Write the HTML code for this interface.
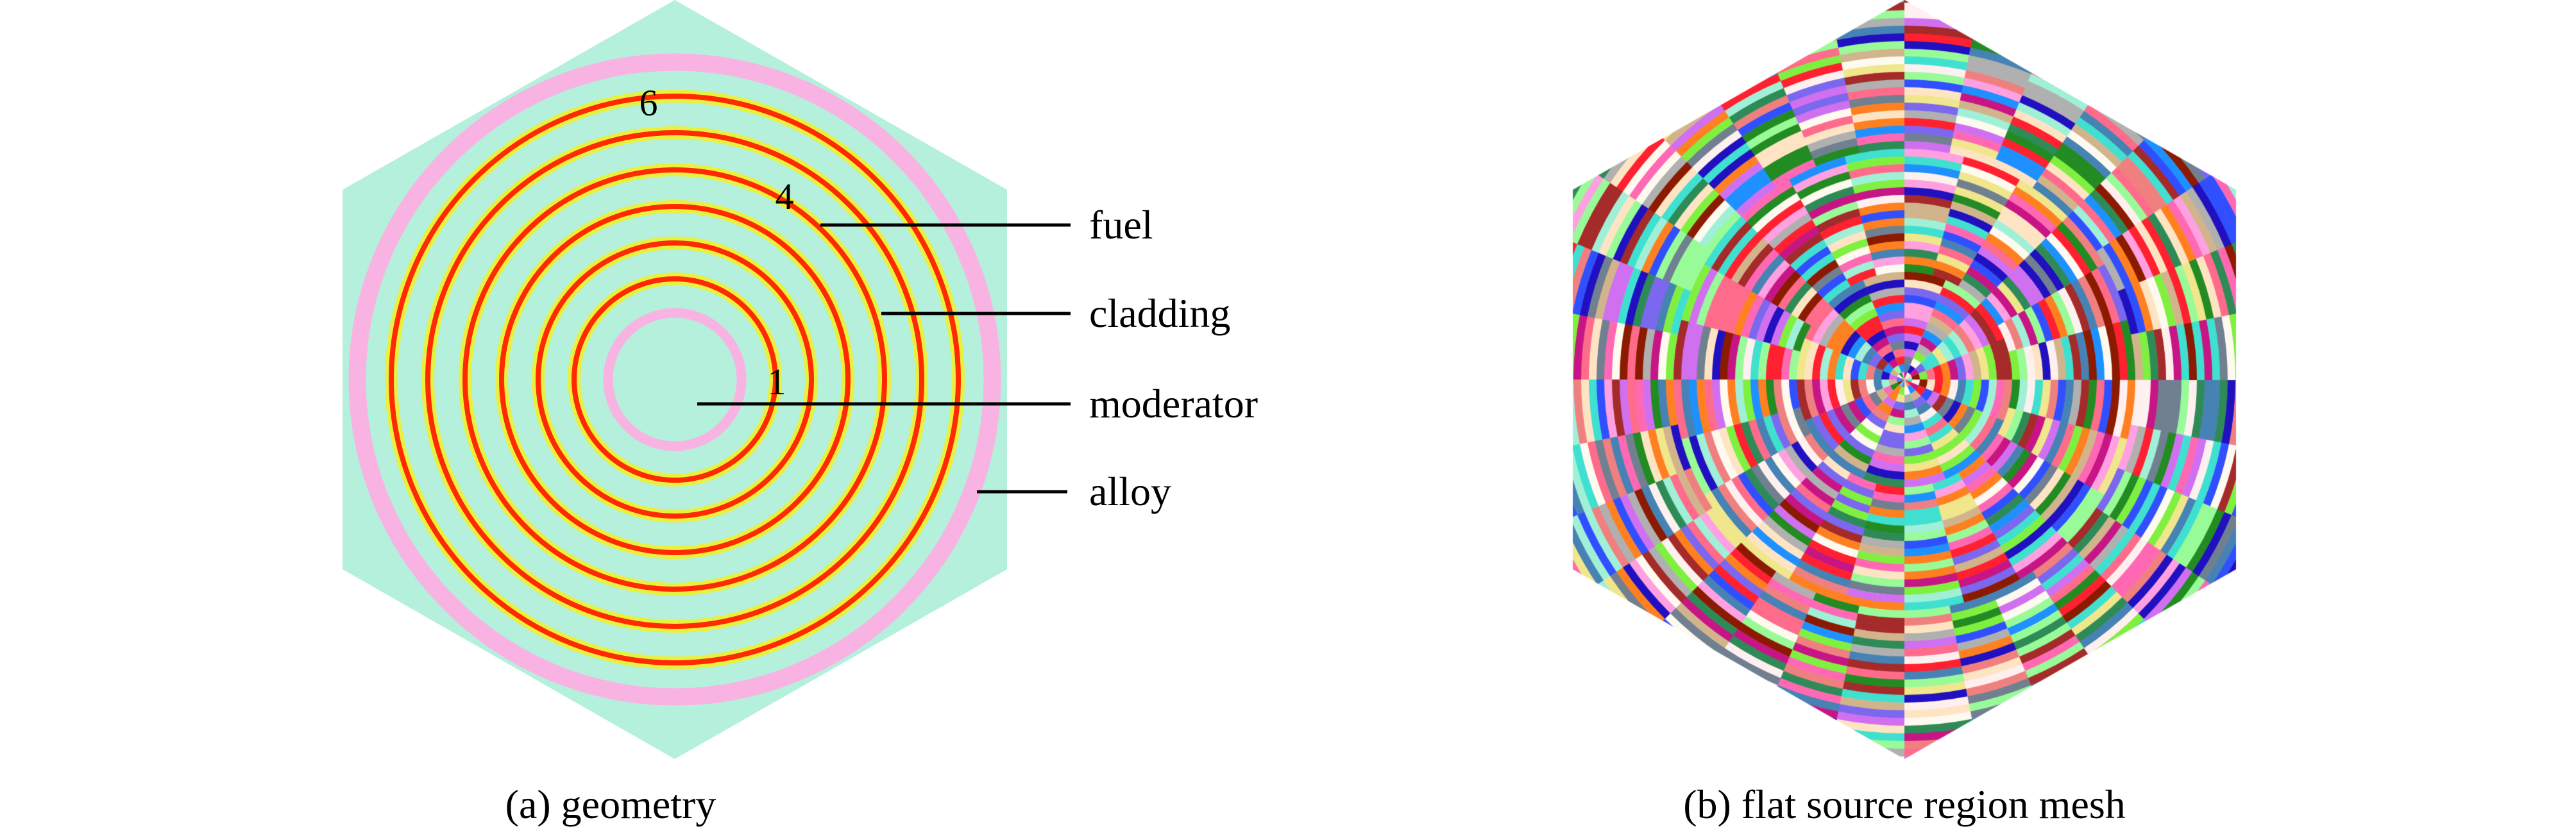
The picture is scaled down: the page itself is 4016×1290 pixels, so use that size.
<!DOCTYPE html>
<html><head><meta charset="utf-8"><style>
html,body{margin:0;padding:0;background:#fff;}
#w{position:relative;width:4016px;height:1290px;overflow:hidden;}
svg,canvas{position:absolute;left:0;top:0;}
</style></head><body><div id="w">
<canvas id="c" width="4016" height="1290"></canvas>
<svg width="4016" height="1290" xmlns="http://www.w3.org/2000/svg" font-family="Liberation Serif, serif">
<polygon points="1052,0 1570,296 1570,888 1052,1184 534,888 534,296" fill="#b4f0dc"/>
<circle cx="1052" cy="592" r="495" fill="none" stroke="#f9b3e3" stroke-width="27"/>
<g fill="none">
<g stroke="#e8f040" stroke-width="20">
<circle cx="1052" cy="592" r="157"/><circle cx="1052" cy="592" r="213"/><circle cx="1052" cy="592" r="270"/>
<circle cx="1052" cy="592" r="327"/><circle cx="1052" cy="592" r="385"/><circle cx="1052" cy="592" r="442"/>
</g>
<g stroke="#ff2a00" stroke-width="8">
<circle cx="1052" cy="592" r="157"/><circle cx="1052" cy="592" r="213"/><circle cx="1052" cy="592" r="270"/>
<circle cx="1052" cy="592" r="327"/><circle cx="1052" cy="592" r="385"/><circle cx="1052" cy="592" r="442"/>
</g>
<circle cx="1052" cy="592" r="104" stroke="#f9b3e3" stroke-width="15"/>
</g>
<g font-size="58" text-anchor="middle" fill="#000">
<text x="1011" y="180">6</text><text x="1223" y="326">4</text><text x="1211" y="615">1</text>
</g>
<g stroke="#000" stroke-width="5">
<line x1="1279" y1="351" x2="1669" y2="351"/>
<line x1="1374" y1="489" x2="1669" y2="489"/>
<line x1="1087" y1="630" x2="1669" y2="630"/>
<line x1="1523" y1="767" x2="1664" y2="767"/>
</g>
<g font-size="64" fill="#000">
<text x="1698" y="372">fuel</text>
<text x="1698" y="510">cladding</text>
<text x="1698" y="651">moderator</text>
<text x="1698" y="788">alloy</text>
</g>
<text x="952" y="1276" font-size="64" text-anchor="middle">(a) geometry</text>
<text x="2969" y="1276" font-size="64" text-anchor="middle">(b) flat source region mesh</text>
</svg>
</div>
<script>
(function(){
var c=document.getElementById('c').getContext('2d');
var cx=2969,cy=592;
c.save();c.beginPath();
c.moveTo(2969,0);c.lineTo(3486,296);c.lineTo(3486,888);c.lineTo(2969,1184);c.lineTo(2452,888);c.lineTo(2452,296);c.closePath();c.clip();
var pal=["#ff6b8a","#2e8b57","#3050ff","#80f040","#8b1a00","#fff0f0","#a0f0d8","#d070f0","#ff2030","#ffa0e0","#d2b48c","#4682b4","#2010c0","#ff8020","#b0b0b0","#708090","#ffe4c4","#f08080","#40e0d0","#7b68ee","#228b22","#ff69b4","#c71585","#fffaf0","#1e90ff","#98fb98","#a52a2a","#f0e68c"];
var s=12345;function rnd(){s=(s*1103515245+12345)%2147483648;return s/2147483648;}
var bw=12;
for(var r=0;r<700;r+=bw){
 var n=r<60?16:(r<160?16:(r<360?24:32));
 for(var k=0;k<n;k++){
  var a0=k*2*Math.PI/n,a1=(k+1)*2*Math.PI/n+0.002;
  c.beginPath();c.arc(cx,cy,r+bw+0.5,a0,a1);c.arc(cx,cy,r,a1,a0,true);c.closePath();
  c.fillStyle=pal[Math.floor(rnd()*pal.length)];c.fill();
 }
}
c.restore();
})();
</script>
</body></html>
